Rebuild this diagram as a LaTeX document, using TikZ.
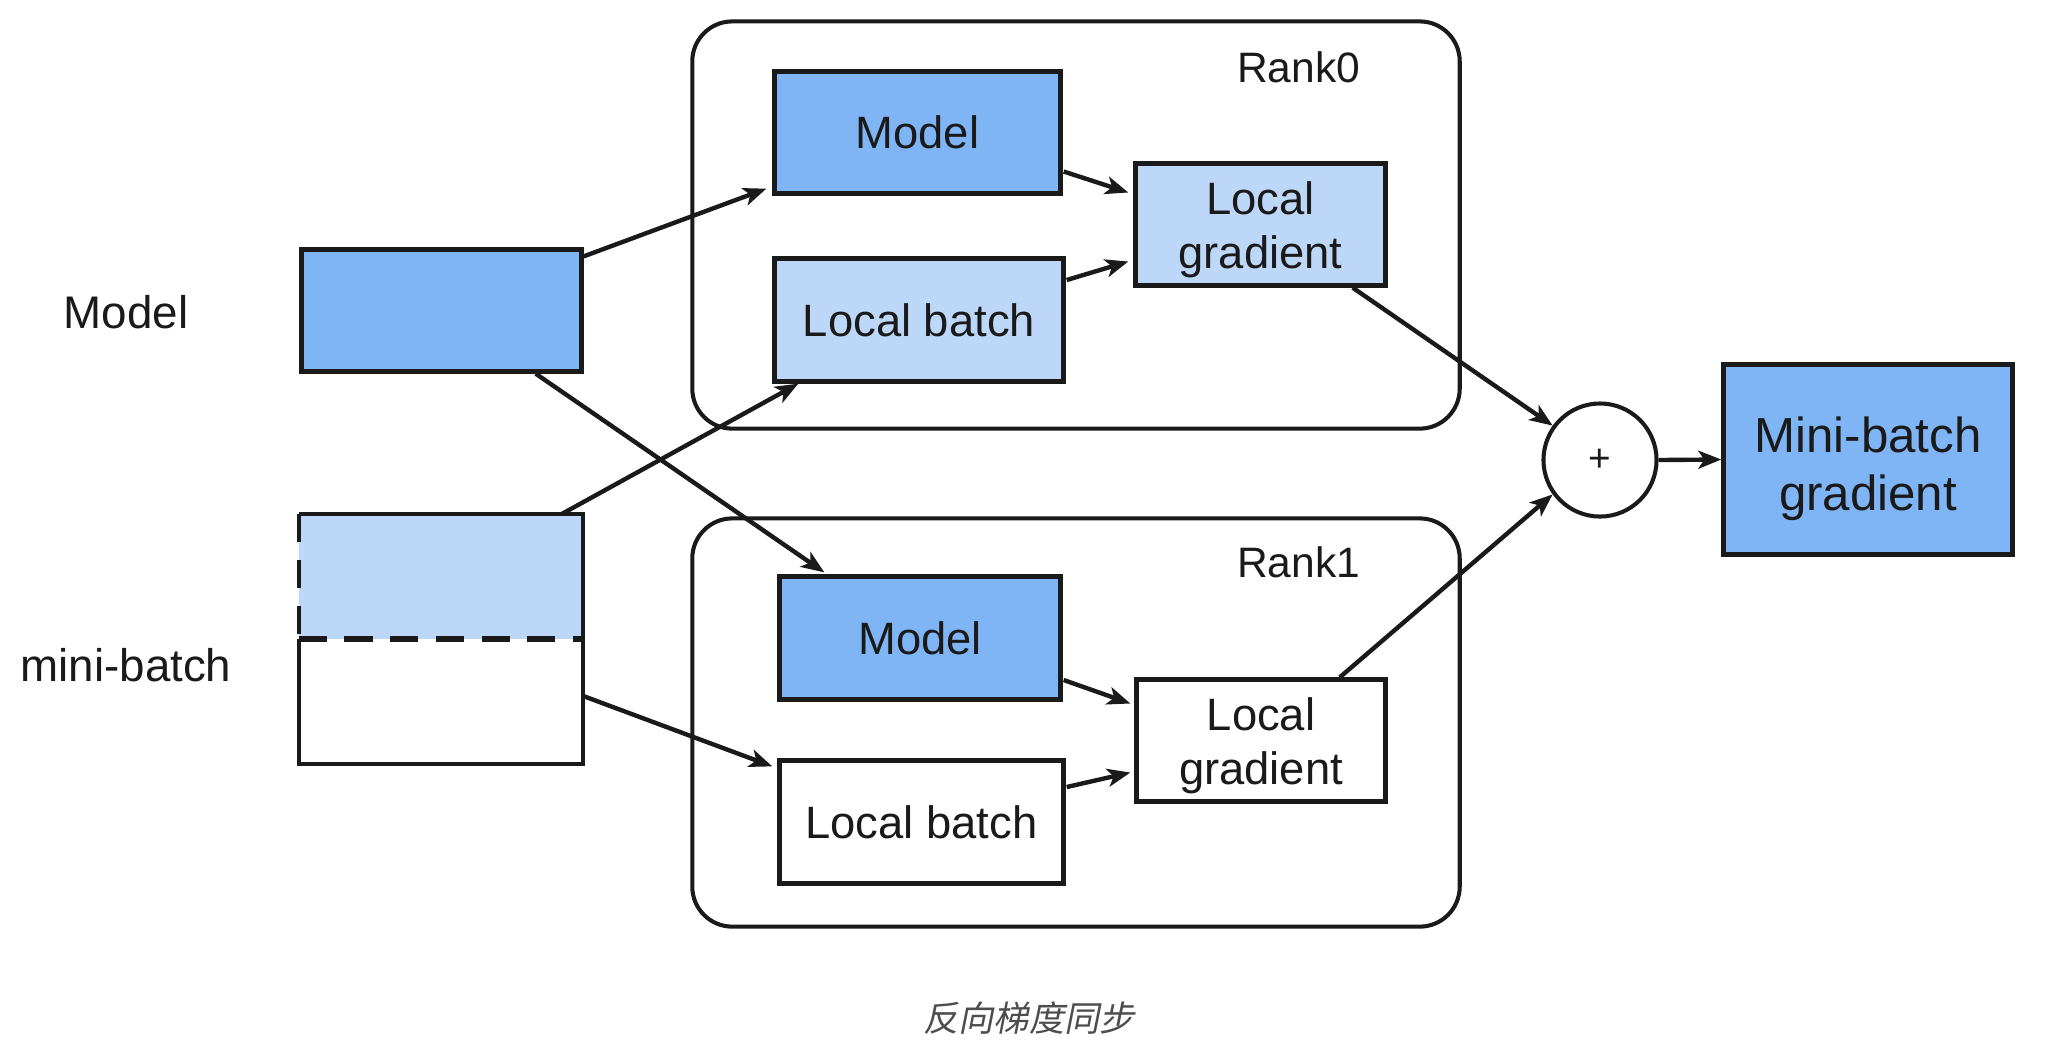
\documentclass[tikz,border=0pt]{standalone}
\usepackage{fontspec}
\setmainfont{Liberation Sans}
\newfontfamily\cjkfont[FakeSlant=0.2]{Noto Sans CJK SC}
\usetikzlibrary{arrows.meta,calc}
\definecolor{dblue}{HTML}{7FB5F5}
\definecolor{lblue}{HTML}{BDD7F8}
\definecolor{ink}{HTML}{1A1A1A}
\definecolor{capgray}{HTML}{4D4D4D}
\begin{document}
\begin{tikzpicture}[x=0.01cm,y=-0.01cm,
  box/.style={draw=ink,line width=1.2pt,inner sep=0pt,text=ink,align=center,
    font=\fontsize{12.9pt}{15.4pt}\selectfont},
  txt/.style={inner sep=0pt,text=ink,align=center,font=\fontsize{12.9pt}{15.4pt}\selectfont},
  frame/.style={draw=ink,line width=1.15pt,rounded corners=0.4cm,inner sep=0pt},
  lbl/.style={text=ink,inner sep=0pt,font=\fontsize{13pt}{15.5pt}\selectfont},
  conn/.style={draw=ink,line width=1.25pt,-{Stealth[length=0.23cm,width=0.18cm,inset=0.06cm]}}]
\fill[white] (0,0) rectangle (2048,1050);
\useasboundingbox (0,0) rectangle (2048,1050);

% containers
\node[frame,minimum width=7.67cm,minimum height=4.07cm] (r0) at (1076,225) {};
\node[frame,minimum width=7.67cm,minimum height=4.08cm] (r1) at (1076,722.5) {};
\node[lbl,font=\fontsize{12.1pt}{14pt}\selectfont] (t0) at ($(r0.north east)+(-163,48)$) {Rank0};
\node[lbl,font=\fontsize{12.1pt}{14pt}\selectfont] (t1) at ($(r1.north east)+(-163,46)$) {Rank1};

% left side
\node[lbl] (lm) at (126,312) {Model};
\node[lbl] (lmb) at (126,665) {mini-batch};
\node[box,fill=dblue,minimum width=2.80cm,minimum height=1.22cm] (mL) at (441.5,310.5) {};
\node[inner sep=0pt,minimum width=2.83cm,minimum height=2.48cm] (mb) at (441,639) {};
\fill[lblue] (mb.north west) rectangle (mb.east);
\draw[ink,line width=1.2pt] (mb.west) -- (mb.south west) -- (mb.south east) -- (mb.north east) -- (mb.north west);
\draw[ink,line width=1.2pt,dash pattern=on 8pt off 5pt] (mb.north west) -- (mb.west);
\draw[ink,line width=1.6pt,dash pattern=on 8pt off 5pt] (mb.west) -- (mb.east);

% rank0
\node[box,fill=dblue,minimum width=2.86cm,minimum height=1.22cm] (m0) at (917.5,132.5) {Model};
\node[box,fill=lblue,minimum width=2.89cm,minimum height=1.23cm] (b0) at (919,320) {Local batch};
\node[box,fill=lblue,minimum width=2.50cm,minimum height=1.22cm] (g0) at (1260.5,224.5) {};
\node[txt] (g0t) at ($(g0.center)+(0,5)$) {Local\\gradient};

% rank1
\node[box,fill=dblue,minimum width=2.81cm,minimum height=1.23cm] (m1) at (920,638) {Model};
\node[box,fill=white,minimum width=2.84cm,minimum height=1.23cm] (b1) at (921.5,822) {Local batch};
\node[box,fill=white,minimum width=2.49cm,minimum height=1.22cm] (g1) at (1261,740.5) {};
\node[txt] (g1t) at ($(g1.center)+(0,5)$) {Local\\gradient};

% sum and result
\node[draw=ink,line width=1.15pt,circle,minimum size=1.13cm,inner sep=0pt,text=ink,
  font=\fontsize{11pt}{13pt}\selectfont] (plus) at (1600,460) {+};
\node[box,fill=dblue,minimum width=2.89cm,minimum height=1.90cm] (mbg) at (1868,459.5) {};
\node[txt,font=\fontsize{14pt}{16.5pt}\selectfont] (mbgt) at ($(mbg.center)+(0,9)$) {Mini-batch\\gradient};

% connectors
\draw[conn] ($(mL.north east)+(0,9)$) -- ($(m0.south west)+(-6,-7)$);
\draw[conn] ($(mL.south east)+(-48,0)$) -- ($(m1.north west)+(47,-2)$);
\draw[conn] ($(mb.north east)+(-22,0)$) -- ($(b0.south west)+(26,0)$);
\draw[conn] ($(mb.east)+(0,57)$) -- ($(b1.north west)+(-5,8)$);
\draw[conn] ($(m0.east)+(1,39)$) -- ($(g0.west)+(-5,-32)$);
\draw[conn] ($(b0.east)+(1,-40)$) -- ($(g0.west)+(-5,37)$);
\draw[conn] ($(m1.east)+(1,42)$) -- ($(g1.west)+(-4,-37)$);
\draw[conn] ($(b1.east)+(1,-35)$) -- ($(g1.west)+(-4,32)$);
\draw[conn] ($(g0.south east)+(-35,0)$) -- (plus.144);
\draw[conn] ($(g1.north east)+(-48,0)$) -- (plus.216);
\draw[conn] (plus.east) -- (mbg.west);

% caption
\node[inner sep=0pt,text=capgray,font=\fontsize{10pt}{12pt}\selectfont] (cap) at (1029,1018) {\cjkfont 反向梯度同步};
\end{tikzpicture}
\end{document}
